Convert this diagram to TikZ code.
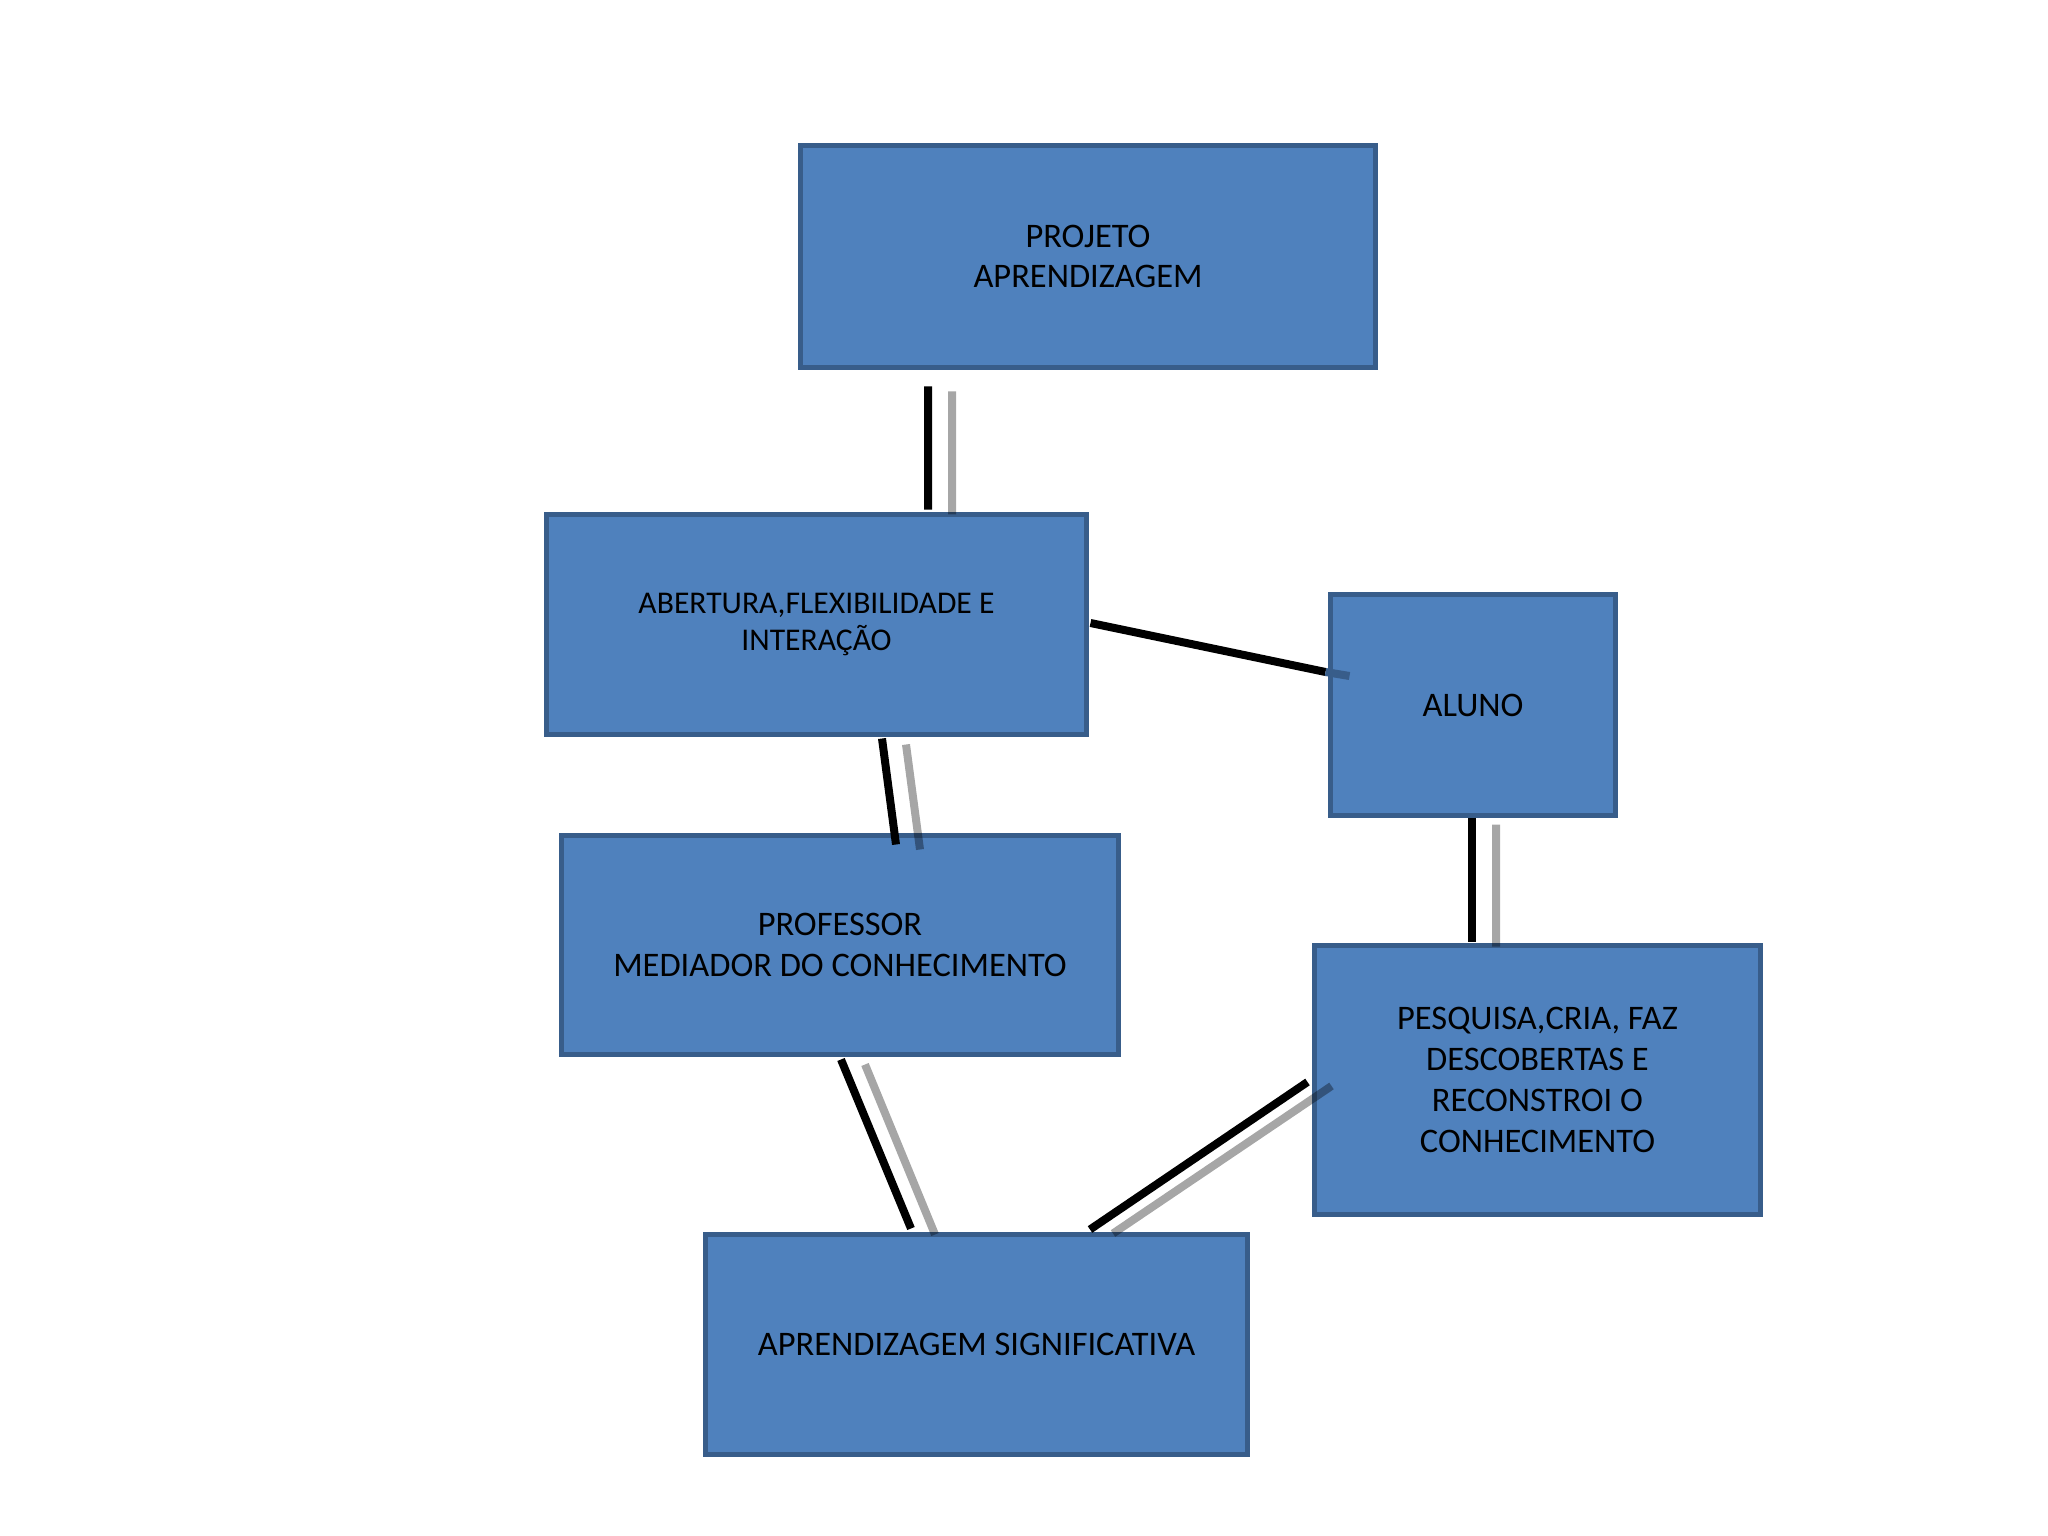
\documentclass[tikz,border=0pt]{standalone}
\usepackage{fontspec}
\setmainfont{Carlito}
\usetikzlibrary{calc}
\definecolor{caixaAzul}{HTML}{4F81BD}
\definecolor{bordaAzul}{HTML}{385D8A}
\tikzset{%
  % Styles for the boxes and the lines:
          base/.style = {rectangle, draw=bordaAzul, line width=0.05cm,
                         fill=caixaAzul, align=center, inner sep=0pt,
                         font=\fontsize{9.8}{11.6}\selectfont},
         caixa/.style = {base, minimum width=5.5cm, minimum height=2.2cm},
    caixaMenor/.style = {caixa, font=\fontsize{9.0}{10.5}\selectfont},
    linhaPreta/.style = {draw=black, line width=0.08cm},
    linhaCinza/.style = {draw=black, draw opacity=0.35, line width=0.08cm},
}

\begin{document}
\begin{tikzpicture}[node distance=3.6cm]
  \useasboundingbox (0,0) rectangle (20.48,-15.36);
  % Boxes (position, size)

  \node (projetoAprend) [caixa, minimum width=5.75cm, minimum height=2.22cm]
        at (10.88,-2.565) {PROJETO\\APRENDIZAGEM};
  \node (abertura) [caixaMenor, minimum width=5.40cm, below of=projetoAprend,
        xshift=-2.715cm, yshift=-0.08cm] {ABERTURA,FLEXIBILIDADE E\\INTERAÇÃO};
  \node (aluno) [caixa, minimum width=2.85cm, minimum height=2.21cm,
        right of=abertura, xshift=2.965cm, yshift=-0.805cm] {ALUNO};
  \node (professor) [caixa, minimum width=5.57cm, minimum height=2.19cm,
        below of=abertura, xshift=0.235cm, yshift=0.395cm]
        {PROFESSOR\\MEDIADOR DO CONHECIMENTO};
  \node (pesquisa) [caixa, minimum width=4.46cm, minimum height=2.69cm,
        below of=aluno, xshift=0.645cm, yshift=-0.15cm]
        {PESQUISA,CRIA, FAZ\\DESCOBERTAS E\\RECONSTROI O\\CONHECIMENTO};
  \node (aprendSignif) [caixa, minimum width=5.42cm, below of=professor,
        xshift=1.365cm, yshift=-0.395cm] {APRENDIZAGEM SIGNIFICATIVA};

  % Double lines between the boxes above (black one and grey one)

  \draw[linhaPreta] ($(projetoAprend.south)+(-1.60,-0.165)$) -- ($(abertura.north)+(1.115,0.025)$);
  \draw[linhaCinza] ($(projetoAprend.south)+(-1.36,-0.215)$) -- ($(abertura.north)+(1.355,-0.025)$);

  \draw[linhaPreta] ($(abertura.east)+(0.015,0.015)$) coordinate (A)
                 -- ($(aluno.west)+(-0.025,0.33)$) coordinate (B);
  \draw[line width=0.08cm, draw=bordaAzul] (B) -- ($(aluno.west)+(0.215,0.29)$);

  \draw[linhaPreta] ($(abertura.south)+(0.655,-0.015)$) -- ($(professor.north)+(0.56,-0.115)$);
  \draw[linhaCinza] ($(abertura.south)+(0.895,-0.075)$) -- ($(professor.north)+(0.80,-0.165)$);

  \draw[linhaPreta] ($(aluno.south)+(-0.01,0)$) -- ($(pesquisa.north)+(-0.655,0.015)$);
  \draw[linhaCinza] ($(aluno.south)+(0.23,-0.065)$) -- ($(pesquisa.north)+(-0.415,-0.035)$);

  \draw[linhaPreta] ($(professor.south)+(0.01,-0.025)$) -- ($(aprendSignif.north)+(-0.655,0.035)$);
  \draw[linhaCinza] ($(professor.south)+(0.25,-0.075)$) -- ($(aprendSignif.north)+(-0.415,-0.025)$);

  \draw[linhaPreta] ($(aprendSignif.north)+(1.135,0.025)$) -- ($(pesquisa.west)+(-0.045,-0.02)$);
  \draw[linhaCinza] ($(aprendSignif.north)+(1.365,-0.015)$) -- ($(pesquisa.west)+(0.195,-0.06)$);

\end{tikzpicture}
\end{document}
